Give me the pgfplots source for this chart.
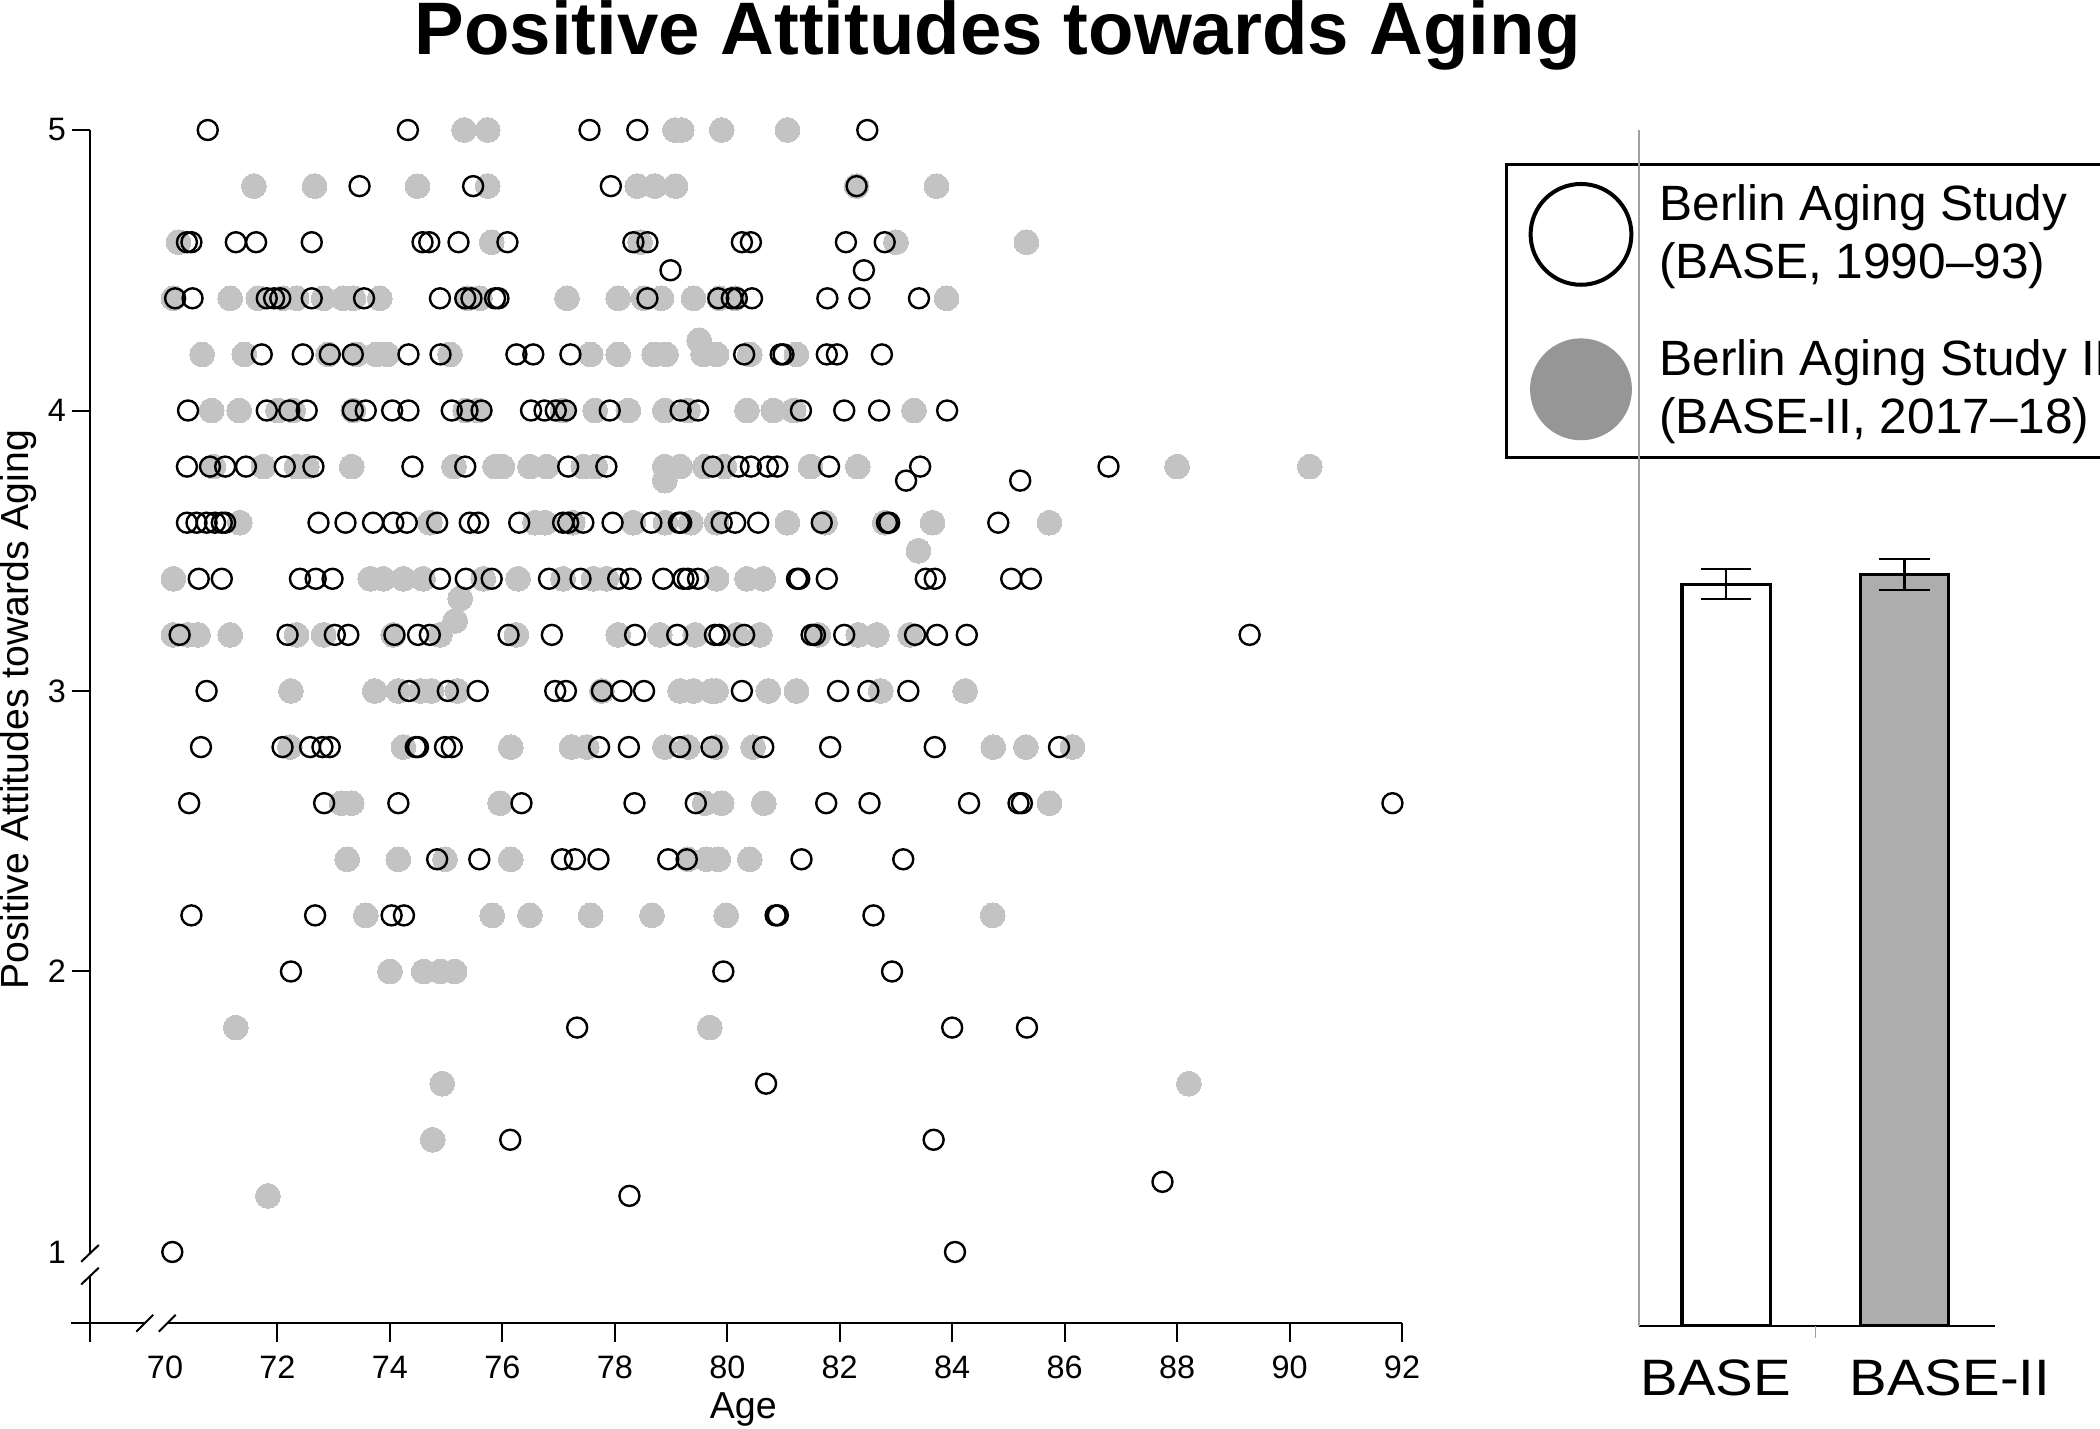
\documentclass[border=0pt]{standalone}
\usepackage{fontspec}
\setmainfont{Liberation Sans}
\newfontfamily\widefont{Liberation Sans}[FakeStretch=1.1]
\usepackage{pgfplots}
\usepackage{pgfplotstable}
\pgfplotsset{compat=1.18}
\definecolor{ptgray}{HTML}{C3C3C3}
\definecolor{leggray}{HTML}{969696}
\definecolor{bargray}{HTML}{ADADAD}
\definecolor{axgray}{HTML}{A0A0A0}

\pgfplotstableread{
x y
75.32 5
75.74 5
79.07 5
79.19 5
79.90 5
81.07 5
71.58 4.8
72.66 4.8
74.49 4.8
75.74 4.8
78.40 4.8
78.71 4.8
79.08 4.8
82.30 4.8
83.72 4.8
70.24 4.6
75.81 4.6
78.45 4.6
83.00 4.6
85.32 4.6
70.15 4.4
71.16 4.4
71.66 4.4
72.10 4.4
72.34 4.4
72.82 4.4
73.17 4.4
73.35 4.4
73.82 4.4
75.38 4.4
75.60 4.4
77.15 4.4
78.06 4.4
78.51 4.4
78.83 4.4
79.40 4.4
79.86 4.4
80.14 4.4
83.90 4.4
79.50 4.25
70.66 4.2
71.41 4.2
72.90 4.2
73.41 4.2
73.76 4.2
73.95 4.2
75.07 4.2
77.57 4.2
78.06 4.2
78.70 4.2
78.91 4.2
79.57 4.2
79.81 4.2
80.40 4.2
81.23 4.2
70.83 4.0
71.32 4.0
72.01 4.0
72.28 4.0
73.35 4.0
75.34 4.0
75.57 4.0
77.07 4.0
77.65 4.0
78.24 4.0
78.89 4.0
79.30 4.0
80.35 4.0
80.82 4.0
81.18 4.0
83.32 4.0
70.86 3.8
71.75 3.8
72.34 3.8
72.52 3.8
73.32 3.8
75.14 3.8
75.87 3.8
76.00 3.8
76.49 3.8
76.79 3.8
77.44 3.8
77.65 3.8
78.89 3.8
79.16 3.8
79.60 3.8
79.95 3.8
81.48 3.8
82.32 3.8
88.00 3.8
90.36 3.8
78.89 3.75
71.33 3.6
74.71 3.6
76.58 3.6
76.76 3.6
77.25 3.6
78.33 3.6
78.90 3.6
79.35 3.6
79.81 3.6
81.07 3.6
81.74 3.6
82.80 3.6
83.65 3.6
85.73 3.6
83.40 3.5
70.15 3.4
73.65 3.4
73.88 3.4
74.24 3.4
74.59 3.4
75.66 3.4
76.28 3.4
77.08 3.4
77.62 3.4
77.85 3.4
79.81 3.4
80.35 3.4
80.64 3.4
75.25 3.33
75.16 3.25
70.15 3.2
70.40 3.2
70.59 3.2
71.16 3.2
72.34 3.2
72.82 3.2
74.06 3.2
74.89 3.2
76.25 3.2
78.06 3.2
78.80 3.2
79.43 3.2
80.17 3.2
80.58 3.2
81.62 3.2
82.33 3.2
82.66 3.2
83.25 3.2
72.24 3.0
73.73 3.0
74.15 3.0
74.55 3.0
74.74 3.0
75.20 3.0
77.77 3.0
79.16 3.0
79.40 3.0
79.72 3.0
79.80 3.0
80.73 3.0
81.23 3.0
82.73 3.0
84.23 3.0
72.22 2.8
74.24 2.8
76.15 2.8
77.23 2.8
77.50 2.8
78.89 2.8
79.30 2.8
79.80 2.8
80.46 2.8
84.73 2.8
85.31 2.8
86.14 2.8
73.14 2.6
73.32 2.6
75.96 2.6
79.60 2.6
79.90 2.6
80.65 2.6
85.73 2.6
73.24 2.4
74.15 2.4
74.98 2.4
76.15 2.4
79.30 2.4
79.63 2.4
79.84 2.4
80.40 2.4
73.57 2.2
75.82 2.2
76.49 2.2
77.57 2.2
78.66 2.2
79.98 2.2
84.72 2.2
74.00 2.0
74.60 2.0
74.90 2.0
75.15 2.0
71.26 1.8
79.69 1.8
74.93 1.6
88.21 1.6
74.76 1.4
71.83 1.2
}\baseii

\pgfplotstableread{
x y
70.76 5
74.32 5
77.55 5
78.40 5
82.49 5
73.46 4.8
75.48 4.8
77.93 4.8
82.30 4.8
70.39 4.6
70.47 4.6
71.26 4.6
71.62 4.6
72.61 4.6
74.58 4.6
74.70 4.6
75.22 4.6
76.09 4.6
78.33 4.6
78.58 4.6
80.26 4.6
80.42 4.6
82.11 4.6
82.80 4.6
78.99 4.5
82.43 4.5
70.18 4.4
70.49 4.4
71.81 4.4
71.94 4.4
72.05 4.4
72.61 4.4
73.54 4.4
74.89 4.4
75.34 4.4
75.45 4.4
75.87 4.4
75.93 4.4
78.58 4.4
79.84 4.4
80.08 4.4
80.17 4.4
80.44 4.4
81.78 4.4
82.35 4.4
83.41 4.4
71.72 4.2
72.45 4.2
72.93 4.2
73.34 4.2
74.33 4.2
74.90 4.2
76.25 4.2
76.55 4.2
77.21 4.2
80.30 4.2
80.95 4.2
81.00 4.2
81.77 4.2
81.95 4.2
82.75 4.2
70.41 4.0
71.81 4.0
72.21 4.0
72.52 4.0
73.34 4.0
73.57 4.0
74.04 4.0
74.33 4.0
75.10 4.0
75.38 4.0
75.63 4.0
76.51 4.0
76.75 4.0
76.95 4.0
77.13 4.0
77.91 4.0
79.17 4.0
79.48 4.0
81.31 4.0
82.08 4.0
82.70 4.0
83.91 4.0
70.39 3.8
70.80 3.8
71.07 3.8
71.44 3.8
72.13 3.8
72.64 3.8
74.40 3.8
75.34 3.8
77.17 3.8
77.85 3.8
79.74 3.8
80.20 3.8
80.42 3.8
80.72 3.8
80.89 3.8
81.81 3.8
83.43 3.8
86.78 3.8
83.18 3.75
85.21 3.75
70.39 3.6
70.56 3.6
70.74 3.6
70.89 3.6
71.01 3.6
71.07 3.6
72.73 3.6
73.21 3.6
73.70 3.6
74.06 3.6
74.30 3.6
74.84 3.6
75.42 3.6
75.57 3.6
76.30 3.6
77.08 3.6
77.17 3.6
77.44 3.6
77.96 3.6
78.65 3.6
79.14 3.6
79.18 3.6
79.90 3.6
80.14 3.6
80.55 3.6
81.68 3.6
82.84 3.6
82.88 3.6
84.82 3.6
70.60 3.4
71.01 3.4
72.40 3.4
72.68 3.4
72.98 3.4
74.89 3.4
75.35 3.4
75.81 3.4
76.83 3.4
77.39 3.4
78.06 3.4
78.28 3.4
78.86 3.4
79.22 3.4
79.30 3.4
79.48 3.4
81.24 3.4
81.28 3.4
81.77 3.4
83.53 3.4
83.69 3.4
85.05 3.4
85.40 3.4
70.26 3.2
72.18 3.2
73.02 3.2
73.26 3.2
74.08 3.2
74.50 3.2
74.71 3.2
76.11 3.2
76.88 3.2
78.36 3.2
79.11 3.2
79.78 3.2
79.86 3.2
80.30 3.2
81.50 3.2
81.56 3.2
82.08 3.2
83.34 3.2
83.73 3.2
84.26 3.2
89.29 3.2
70.74 3.0
74.34 3.0
75.03 3.0
75.56 3.0
76.94 3.0
77.13 3.0
77.77 3.0
78.12 3.0
78.52 3.0
80.26 3.0
81.97 3.0
82.51 3.0
83.22 3.0
70.64 2.8
72.09 2.8
72.58 2.8
72.80 2.8
72.93 2.8
74.46 2.8
74.50 2.8
74.98 2.8
75.10 2.8
77.72 2.8
78.25 2.8
79.16 2.8
79.72 2.8
80.64 2.8
81.83 2.8
83.69 2.8
85.90 2.8
70.43 2.6
72.83 2.6
74.15 2.6
76.34 2.6
78.35 2.6
79.44 2.6
81.76 2.6
82.53 2.6
84.30 2.6
85.18 2.6
85.24 2.6
91.83 2.6
74.84 2.4
75.59 2.4
77.06 2.4
77.29 2.4
77.71 2.4
78.95 2.4
79.28 2.4
81.32 2.4
83.13 2.4
70.47 2.2
72.67 2.2
74.03 2.2
74.25 2.2
80.86 2.2
80.90 2.2
82.60 2.2
72.24 2.0
79.93 2.0
82.93 2.0
77.33 1.8
84.00 1.8
85.33 1.8
80.69 1.6
76.14 1.4
83.67 1.4
87.74 1.25
78.26 1.2
70.13 1.0
84.05 1.0
}\base

\begin{document}
\begin{tikzpicture}
\useasboundingbox (0,0) rectangle (525pt,357pt);
\clip (0,0) rectangle (525pt,357pt);
\begin{axis}[
  at={(22.5pt,26.2pt)}, anchor=south west,
  scale only axis, width=328pt, height=298.3pt,
  xmin=68.666, xmax=92, ymin=0.746, ymax=5,
  axis lines=left,
  axis line style={-, line width=0.5pt, black},
  clip=false,
  xtick={72,74,...,92},
  extra x ticks={70}, extra x tick style={major tick style={draw=none}},
  ytick={2,3,4,5},
  extra y ticks={1}, extra y tick style={major tick style={draw=none}},
  tick align=outside, major tick length=4.6pt,
  tick style={black, line width=0.5pt},
  ticklabel style={font=\fontsize{8.1}{9}\selectfont},
  yticklabel style={xshift=2.1pt},
  /pgf/number format/assume math mode=true,
  every axis title shift=0pt,
  title={Positive Attitudes towards Aging},
  title style={at={(axis description cs:0.6918,1.0629)}, anchor=base, font=\fontsize{18.6}{22}\selectfont\bfseries, inner sep=0pt},
  xlabel={Age},
  xlabel style={at={(axis description cs:0.4979,-0.0798)}, anchor=base, font=\fontsize{9.4}{11}\selectfont, inner sep=0pt},
  ylabel={Positive Attitudes towards Aging},
  ylabel style={at={(axis description cs:-0.0543,0.514)}, anchor=center, font=\fontsize{9.8}{11}\selectfont, inner sep=0pt},
  legend style={at={(axis description cs:1.0787,0.972)}, anchor=north west, draw=black, line width=0.67pt, fill=white,
    inner xsep=5.5pt, inner ysep=4.3pt, row sep=12.9pt, column sep=6.5pt,
    font=\fontsize{12.4}{14.4}\selectfont, nodes={align=left, inner sep=0pt}},
  legend cell align=left,
  reverse legend,
]
\addplot[only marks, mark=*, mark size=3.1pt, color=ptgray, mark options={fill=ptgray, draw=ptgray, line width=0pt},
  legend image code/.code={\fill[leggray] (0pt,0pt) circle (12.4pt);}] table[x=x,y=y] {\baseii};
\addlegendentry{Berlin Aging Study II\\(BASE-II, 2017--18)}
\addplot[only marks, mark=o, mark size=2.5pt, color=black, mark options={draw=black, line width=0.6pt},
  legend image code/.code={\draw[black, line width=1pt] (0pt,0pt) circle (12.6pt);}] table[x=x,y=y] {\base};
\addlegendentry{Berlin Aging Study\\(BASE, 1990--93)}
% axis breaks and extensions
\draw[white, line width=2pt] (axis cs:69.64,0.746) -- (axis cs:70.04,0.746);
\draw[white, line width=2pt] (axis cs:68.666,0.995) -- (axis cs:68.666,0.914);
\draw[black, line width=0.5pt] ([shift={(-2.1pt,-2.1pt)}]axis cs:69.64,0.746) -- ([shift={(2.1pt,2.1pt)}]axis cs:69.64,0.746);
\draw[black, line width=0.5pt] ([shift={(-2.1pt,-2.1pt)}]axis cs:70.04,0.746) -- ([shift={(2.1pt,2.1pt)}]axis cs:70.04,0.746);
\draw[black, line width=0.5pt] ([shift={(-2.2pt,-2.1pt)}]axis cs:68.666,0.995) -- ([shift={(2.2pt,2.1pt)}]axis cs:68.666,0.995);
\draw[black, line width=0.5pt] ([shift={(-2.2pt,-2.1pt)}]axis cs:68.666,0.914) -- ([shift={(2.2pt,2.1pt)}]axis cs:68.666,0.914);
\draw[black, line width=0.5pt] (axis cs:68.666,0.746) -- ++(-4.8pt,0pt);
\draw[black, line width=0.5pt] (axis cs:68.666,0.746) -- ++(0pt,-4.6pt);
\end{axis}

\begin{axis}[
  at={(409.75pt,25.5pt)}, anchor=south west,
  scale only axis, width=89.1pt, height=299pt,
  xmin=0.511, xmax=2.511, ymin=0.736, ymax=5,
  axis x line=bottom, axis y line=left,
  x axis line style={-, black, line width=0.7pt},
  y axis line style={-, axgray, line width=0.35pt},
  ytick=\empty,
  xtick={0.941,2.256}, xticklabels={BASE,BASE-II},
  major tick length=0pt,
  xticklabel style={font=\widefont\fontsize{12.8}{14}\selectfont, anchor=base, yshift=-17.4pt, inner sep=0pt},
  extra x ticks={1.5}, extra x tick labels={},
  extra x tick style={major tick length=3pt, tick align=outside, major tick style={axgray, line width=0.35pt}},
]
\addplot[ybar, bar width=22.1pt, bar shift=0pt, fill=white, draw=black, line width=0.8pt,
  error bars/.cd, y dir=both, y explicit,
  error bar style={black, line width=0.6pt},
  error mark options={rotate=90, mark size=6.3pt, black, line width=0.6pt}]
  coordinates {(1,3.381) +- (0,0.054)};
\addplot[ybar, bar width=22.1pt, bar shift=0pt, fill=bargray, draw=black, line width=0.8pt,
  error bars/.cd, y dir=both, y explicit,
  error bar style={black, line width=0.6pt},
  error mark options={rotate=90, mark size=6.3pt, black, line width=0.6pt}]
  coordinates {(2,3.415) +- (0,0.055)};
\end{axis}
\end{tikzpicture}
\end{document}
